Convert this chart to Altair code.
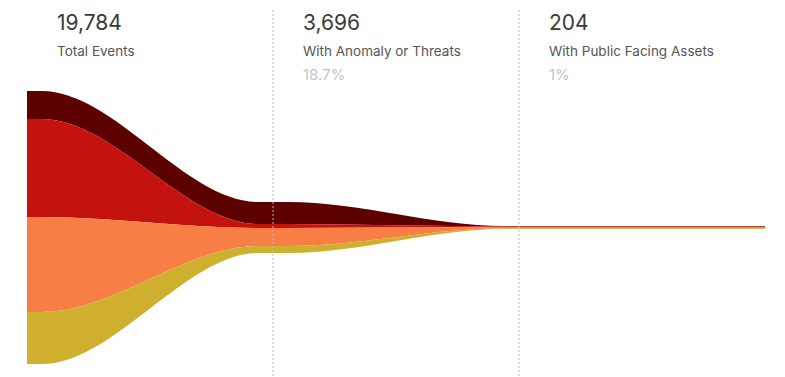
import altair as alt
import pandas as pd

# ---- data ----
stages = ["Total Events", "With Anomaly or Threats", "With Public Facing Assets"]
totals = [19784, 3696, 204]
percents = ["", "18.7%", "1%"]
series_names = ["Maroon", "Red", "Orange", "Gold"]
maroon = [2029, 1594, 24]
red = [7102, 290, 40]
orange = [6885, 1305, 90]
gold = [3768, 507, 50]
colors = ["#5c0000", "#c4120f", "#f77f45", "#cfb02e"]

# each stage value is held over a short span around its stage boundary
x_points = [0, 0.06, 0.94, 1.06, 1.94, 2.06, 3]
stage_of_point = [0, 0, 1, 1, 2, 2, 2]

rows = []
series_values = [maroon, red, orange, gold]
for si, (name, vals) in enumerate(zip(series_names, series_values)):
    for xp, st in zip(x_points, stage_of_point):
        rows.append({"x": xp, "series": name, "value": vals[st], "order": 3 - si})
df = pd.DataFrame(rows)

labels_df = pd.DataFrame({
    "x": [0, 1, 2],
    "stage": stages,
    "total": totals,
    "pct": percents,
})
rules_df = pd.DataFrame({"x": [1, 2]})

xscale = alt.Scale(domain=[0, 3], nice=False, zero=False)

area = alt.Chart(df).mark_area(interpolate="monotone").encode(
    x=alt.X("x:Q", scale=xscale, axis=None),
    y=alt.Y("value:Q", stack="center", scale=alt.Scale(domain=[-942, 26379], nice=False, zero=False), axis=None),
    color=alt.Color("series:N", scale=alt.Scale(domain=series_names, range=colors), legend=None),
    order=alt.Order("order:Q"),
)

rules = alt.Chart(rules_df).mark_rule(color="#b5b8d8", strokeWidth=1, strokeDash=[2, 2]).encode(
    x=alt.X("x:Q", scale=xscale),
    y=alt.value(10),
    y2=alt.value(377),
)

font = "Inter"
nums = alt.Chart(labels_df).mark_text(align="left", baseline="alphabetic", dx=30, fontSize=21,
                                      font=font, color="#3a3a3a").encode(
    x=alt.X("x:Q", scale=xscale), y=alt.value(30), text=alt.Text("total:Q", format=","))
names = alt.Chart(labels_df).mark_text(align="left", baseline="alphabetic", dx=30, fontSize=13.5,
                                       font=font, color="#555555").encode(
    x=alt.X("x:Q", scale=xscale), y=alt.value(56), text="stage:N")
pcts = alt.Chart(labels_df).transform_filter("datum.pct != ''").mark_text(
    align="left", baseline="alphabetic", dx=30, fontSize=15, font=font, color="#c4c4c4").encode(
    x=alt.X("x:Q", scale=xscale), y=alt.value(80), text="pct:N")

chart = alt.layer(area, rules, nums, names, pcts).properties(
    width=738, height=377,
    autosize=alt.AutoSizeParams(type="none"),
    padding={"left": 27, "top": 0, "right": 20, "bottom": 0},
).configure_view(stroke=None)

chart.save("out.html", embed_options={"renderer": "svg", "actions": False})
